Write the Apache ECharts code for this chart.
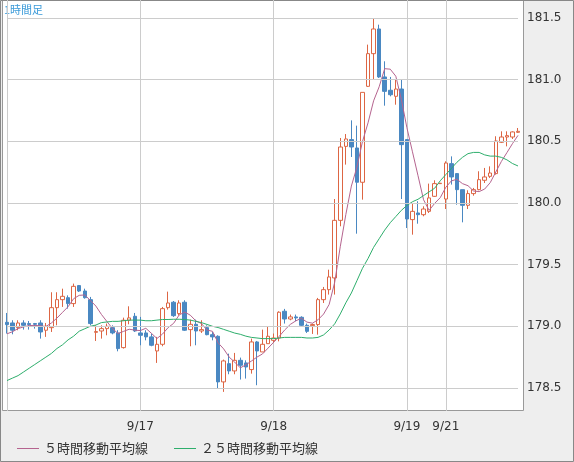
<!DOCTYPE html>
<html><head><meta charset="utf-8">
<script src="https://cdn.jsdelivr.net/npm/echarts@6/dist/echarts.min.js"></script>
<style>html,body{margin:0;padding:0;background:#eeeeee}#c{width:574px;height:462px}</style>
</head><body><div id="c"></div>
<script>
// [open, close, low, high]
const ohlc = [
[179.032,179.014,178.941,179.108],[179.027,178.968,178.935,179.049],[178.989,179.027,178.968,179.049],[179.027,179.008,178.973,179.049],
[179.022,179.014,178.973,179.043],[179.022,179.016,178.981,179.027],[179.027,178.954,178.900,179.049],[178.968,179.000,178.914,179.027],
[178.989,179.151,178.954,179.276],[179.151,179.216,179.008,179.276],[179.216,179.243,179.157,179.305],[179.232,179.184,179.143,179.251],
[179.184,179.324,179.157,179.346],[179.330,179.286,179.278,179.335],[179.286,179.232,179.224,179.305],[179.216,179.022,179.008,179.238],
[178.951,178.957,178.881,179.008],[178.962,178.981,178.900,179.008],[178.981,179.000,178.927,179.022],[178.989,178.946,178.935,179.008],
[178.946,178.819,178.797,178.968],[178.827,179.049,178.819,179.070],[179.049,179.068,179.016,179.162],[179.081,178.962,178.954,179.108],
[178.946,178.927,178.846,179.076],[178.946,178.914,178.886,178.968],[178.914,178.846,178.838,178.941],[178.800,178.854,178.703,178.914],
[178.854,179.143,178.838,179.157],[179.151,179.189,179.135,179.281],[179.195,179.086,179.076,179.205],[179.103,179.189,179.089,179.211],
[179.195,178.968,178.962,179.211],[178.973,179.016,178.838,179.054],[179.016,178.962,178.846,179.054],[178.962,178.973,178.946,179.049],
[178.989,178.932,178.927,179.008],[178.932,178.914,178.886,178.954],[178.919,178.549,178.495,178.927],[178.549,178.719,178.468,178.730],
[178.697,178.638,178.611,178.778],[178.638,178.724,178.611,178.784],[178.724,178.684,178.568,178.746],[178.703,178.670,178.576,178.724],
[178.649,178.873,178.616,178.900],[178.873,178.800,178.522,178.881],[178.792,178.854,178.792,178.973],[178.859,178.919,178.859,179.000],
[178.886,178.905,178.865,178.941],[178.905,179.114,178.878,179.122],[179.122,179.059,179.022,179.141],[179.059,179.076,179.049,179.095],
[179.076,179.068,179.041,179.095],[179.073,179.008,179.000,179.081],[179.008,178.959,178.946,179.022],[179.005,179.014,178.938,179.022],
[179.014,179.216,178.932,179.230],[179.216,179.297,179.189,179.319],[179.297,179.400,179.257,179.459],[179.392,179.859,179.257,180.032],
[179.859,180.454,179.811,180.527],[180.459,180.519,180.311,180.559],[180.514,180.454,180.373,180.670],[180.446,180.168,179.751,180.627],
[180.168,180.897,180.027,180.897],[180.946,181.211,180.941,181.284],[181.211,181.411,181.000,181.500],[181.411,181.022,181.014,181.446],
[181.022,180.905,180.789,181.149],[180.914,180.878,180.865,181.022],[180.865,180.924,180.797,181.000],[180.924,180.473,180.032,181.000],
[180.514,179.870,179.797,180.514],[179.865,179.932,179.743,180.000],[179.919,179.905,179.832,180.014],[179.905,179.951,179.892,179.973],
[179.932,180.041,179.919,180.157],[180.054,180.157,180.049,180.184],[180.157,180.160,180.155,180.160],[180.032,180.324,179.951,180.338],
[180.319,180.211,180.149,180.378],[180.238,180.108,179.986,180.243],[180.108,179.981,179.843,180.108],[179.981,180.076,179.951,180.103],
[180.076,180.108,180.059,180.122],[180.108,180.189,180.103,180.257],[180.184,180.211,180.162,180.284],[180.216,180.243,180.203,180.297],
[180.238,180.503,180.230,180.541],[180.492,180.535,180.486,180.581],[180.535,180.546,180.459,180.581],[180.535,180.576,180.519,180.581],
[180.573,180.581,180.568,180.608]
];
const priorCloses = [178.88,178.90,178.94,178.96];
const ma25 = [178.56,178.58,178.60,178.63,178.66,178.69,178.72,178.75,178.78,178.82,178.85,178.89,178.92,178.96,178.98,179.00,
179.01,179.03,179.035,179.04,179.04,179.045,179.05,179.05,179.05,179.045,179.045,179.05,179.055,179.055,179.057,179.057,
179.055,179.05,179.04,179.03,179.015,179.0,178.99,178.975,178.96,178.945,178.935,178.92,178.91,178.905,178.9,178.9,
178.9,178.905,178.91,178.91,178.91,178.91,178.905,178.905,178.91,178.93,178.97,179.02,179.10,179.19,179.27,179.37,
179.47,179.55,179.64,179.71,179.78,179.84,179.89,179.94,179.98,180.01,180.03,180.06,180.09,180.12,180.18,180.23,
180.28,180.33,180.37,180.40,180.41,180.41,180.39,180.38,180.38,180.37,180.35,180.32,180.30];
const tickIdx = [24,48,72,79];
const tickLabels = ['9/17','9/18','9/19','9/21'];
const yTicks = [178.5,179.0,179.5,180.0,180.5,181.0,181.5];

const categories = ohlc.map((d,i)=>String(i));
const closes = ohlc.map(d=>d[1]);
const allC = priorCloses.concat(closes);
const ma5 = closes.map((c,i)=>{let s=0;for(let k=i;k<i+5;k++)s+=allC[k];return +(s/5).toFixed(3);});

const chart = echarts.init(document.getElementById('c'));
chart.setOption({
  animation:false,
  backgroundColor:'#eeeeee',
  textStyle:{fontFamily:'"Noto Sans CJK JP","DejaVu Sans",sans-serif'},
  graphic:[
    {type:'rect',z:-1,shape:{x:2.5,y:0.5,width:521,height:410},style:{fill:'#fff',stroke:'#999',lineWidth:1}},
    {type:'rect',z:-1,shape:{x:0.5,y:0.5,width:573,height:461},style:{fill:'none',stroke:'#888',lineWidth:1}},
    {type:'text',left:4,top:4,style:{text:'1時間足',fill:'#3a9ad9',font:'11px "Noto Sans CJK JP"'}}
  ],
  grid:{left:7,right:56,top:0,bottom:51},
  legend:{left:12,top:437,itemWidth:22,itemHeight:1,itemGap:26,icon:'rect',
    textStyle:{color:'#333',fontSize:13,fontFamily:'"Noto Sans CJK JP"'},
    data:['５時間移動平均線','２５時間移動平均線']},
  xAxis:{type:'category',data:categories,boundaryGap:false,
    axisLine:{show:false},axisTick:{show:false},
    axisLabel:{interval:(i)=>tickIdx.includes(i),formatter:(v,i)=>tickLabels[tickIdx.indexOf(i)]||'',
      color:'#333',fontSize:12,margin:10,fontFamily:'"DejaVu Sans"'},
    splitLine:{show:true,interval:(i)=>i===0||tickIdx.includes(i),lineStyle:{color:'#ccc'}}},
  yAxis:{type:'value',position:'right',min:178.313,max:181.646,
    splitLine:{show:false},axisLine:{show:false},axisTick:{show:false},
    axisLabel:{customValues:yTicks,formatter:v=>v.toFixed(1),color:'#333',fontSize:12,margin:9,fontFamily:'"DejaVu Sans"'}},
  series:[
    {type:'candlestick',data:ohlc,barWidth:4,clip:false,
      itemStyle:{color:'#ffffff',color0:'#4a88c2',borderColor:'#dd6644',borderColor0:'#4a88c2',borderWidth:1},
      markLine:{silent:true,symbol:'none',label:{show:false},lineStyle:{color:'#ccc',type:'solid',width:1},
        data:yTicks.map(v=>({yAxis:v}))}},
    {name:'５時間移動平均線',type:'line',data:ma5,showSymbol:false,lineStyle:{color:'#b5648f',width:1},itemStyle:{color:'#b5648f'}},
    {name:'２５時間移動平均線',type:'line',data:ma25,showSymbol:false,lineStyle:{color:'#2eae6c',width:1},itemStyle:{color:'#2eae6c'}}
  ]
});
</script></body></html>
